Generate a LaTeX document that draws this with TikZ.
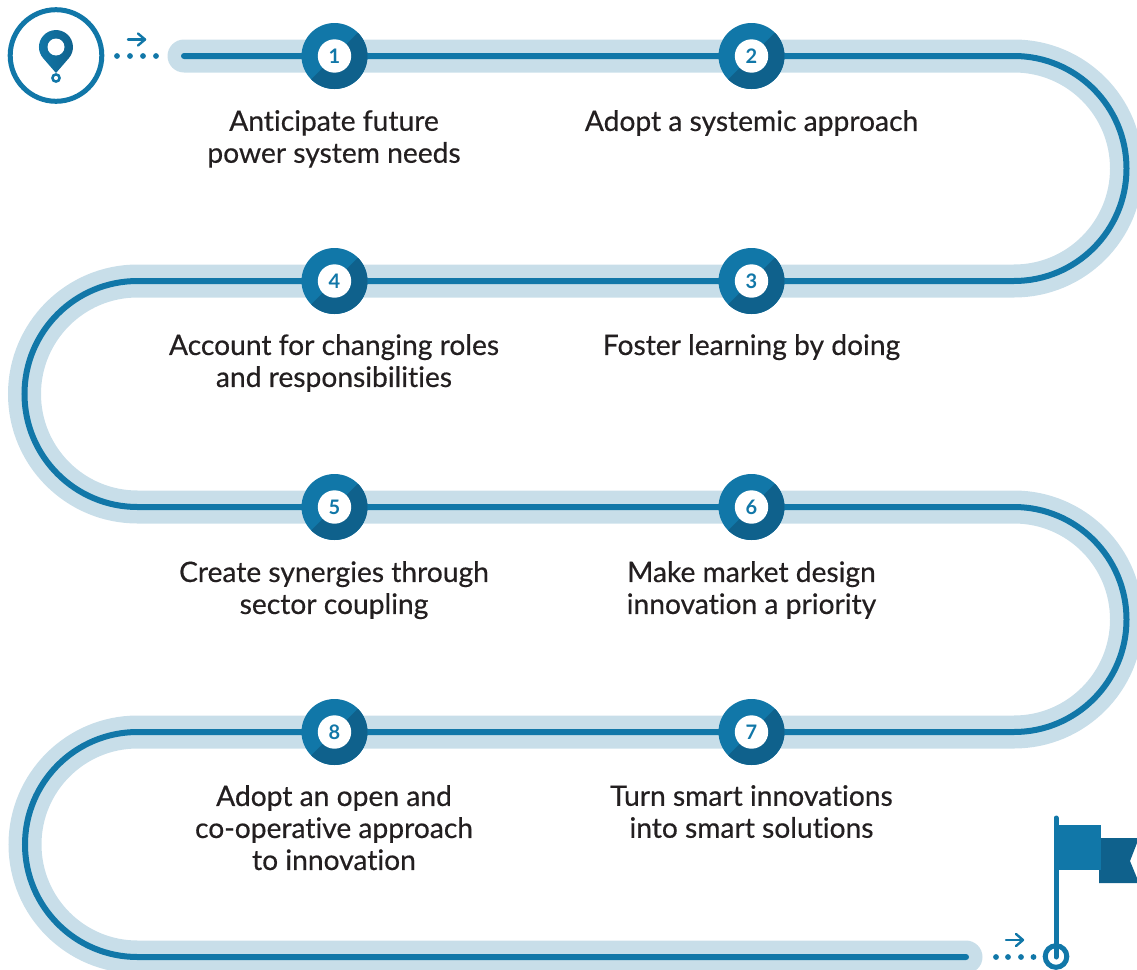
\documentclass[tikz,border=0pt]{standalone}
\usepackage{fontspec}
\setmainfont{Lato}
\newfontfamily\lblfont{Lato}[FakeBold=0.45,Ligatures=NoCommon]
\newfontfamily\numfont{Lato Black}
\definecolor{band}{HTML}{C8DEE9}
\definecolor{mainb}{HTML}{1177A8}
\definecolor{darkb}{HTML}{0F618C}
\definecolor{txt}{HTML}{231F20}
\tikzset{
 bandline/.style={line width=33pt,band,line cap=round},
 thinline/.style={line width=6pt,mainb,line cap=round},
 lbl/.style={align=center,font=\lblfont\fontsize{28.2}{32}\selectfont,text=txt,anchor=north,inner sep=0pt},
 num/.style={font=\fontsize{20}{20}\selectfont\bfseries,text=mainb,inner sep=0pt},
 dotty/.style={circle,fill=mainb,inner sep=0pt,minimum size=5.8pt},
 arr/.style={mainb,line width=2.4pt,line cap=round,line join=round},
}
\newcommand{\stepdisc}[3]{%
 \begin{scope}
 \clip (#1,#2) circle (33);
 \fill[mainb] (#1-40,#2-40) rectangle (#1+40,#2+40);
 \fill[darkb] (#1+40,#2-40) -- (#1+40,#2+40) -- (#1-40,#2+40) -- cycle;
 \end{scope}
 \fill[white] (#1,#2) circle (16.7);
 \node[num] (n#3) at (#1,#2) {#3};
}
\begin{document}
\begin{tikzpicture}[x=1pt,y=-1pt]
\useasboundingbox (0,0) rectangle (1137,969);
\def\roadpath{(184,56) -- (1014,56) arc[start angle=-90,end angle=90,radius=112.5] -- (137.5,281)
 arc[start angle=-90,end angle=-270,radius=113] -- (1014,507)
 arc[start angle=-90,end angle=90,radius=112.5] -- (137.5,732)
 arc[start angle=-90,end angle=-270,radius=112.5] -- (966,957)}
\begin{scope}
\clip (0,0) rectangle (1137,969);
\draw[bandline] \roadpath;
\draw[thinline] \roadpath;
\end{scope}
\stepdisc{334.5}{56}{1}
\stepdisc{751.5}{56}{2}
\stepdisc{751.5}{281}{3}
\stepdisc{334.5}{281}{4}
\stepdisc{334.5}{507}{5}
\stepdisc{751.5}{507}{6}
\stepdisc{751.5}{732}{7}
\stepdisc{334.5}{732}{8}
\node[lbl] (t1) at (334,110) {Anticipate future\\power system needs};
\node[lbl] (t2) at (751.5,110) {Adopt a systemic approach};
\node[lbl] (t3) at (751.5,334) {Foster learning by doing};
\node[lbl] (t4) at (334,334) {Account for changing roles\\and responsibilities};
\node[lbl] (t5) at (334,561) {Create synergies through\\sector coupling};
\node[lbl] (t6) at (751.5,561) {Make market design\\innovation a priority};
\node[lbl] (t7) at (751.5,785) {Turn smart innovations\\into smart solutions};
\node[lbl] (t8) at (334,785) {Adopt an open and\\co-operative approach\\to innovation};
% start marker
\draw[mainb,line width=5pt] (56,55.5) circle (45.8);
\shade[left color=mainb,middle color=mainb,right color=darkb] (56,73) -- (68.8,58.2) arc[start angle=41,end angle=-221,radius=17] -- cycle;
\fill[white] (56,47) circle (8.5);
\draw[mainb,line width=2.5pt,fill=white] (56,78) circle (3.6);
\foreach \i/\x in {a/117,b/130,c/143,d/156}{\node[dotty] (s\i) at (\x,56) {};}
\coordinate (arrS) at (128,39.5);
\coordinate (arrE) at (145,39.5);
\draw[arr] (arrS) -- (arrE);
\draw[arr] (138,33.5) -- (arrE) -- (138,45.5);
% end marker
\foreach \i/\x in {a/996,b/1008,c/1021,d/1033.5}{\node[dotty] (e\i) at (\x,957) {};}
\coordinate (arrT) at (1023,940);
\coordinate (arrU) at (1006,940);
\draw[arr] (arrU) -- (arrT);
\draw[arr] (1016,934) -- (arrT) -- (1016,946);
\fill[darkb] (1099,838) -- (1137,838) -- (1137,843) -- (1130,861) -- (1137,878) -- (1137,883) -- (1099,883) -- cycle;
\fill[mainb] (1055,825) rectangle (1101,869.5);
\draw[mainb,line width=5pt,line cap=round] (1056,818) -- (1056,957);
\draw[mainb,line width=5pt] (1056,956.5) circle (10.8);
\end{tikzpicture}
\end{document}
